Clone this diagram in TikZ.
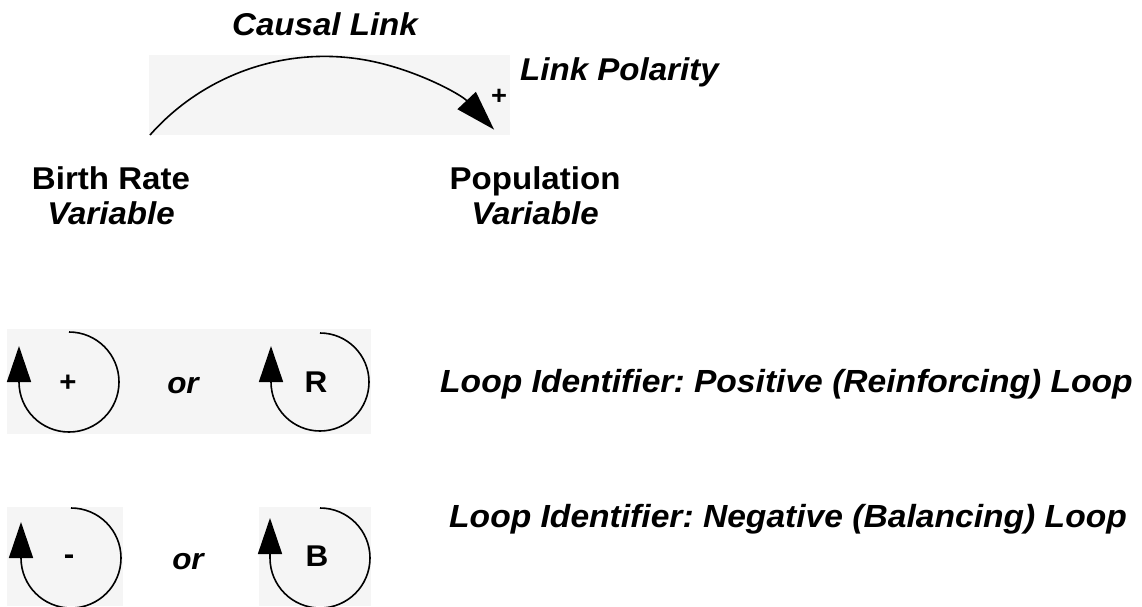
\documentclass[tikz,border=0pt]{standalone}
\usepackage{fontspec}
\setmainfont[FakeStretch=1.05]{Liberation Sans}
\usetikzlibrary{arrows.meta}
\definecolor{panel}{HTML}{F5F5F5}
\frenchspacing
\begin{document}
\begin{tikzpicture}[x=1pt,y=-1pt,
  lbl/.style={inner sep=0pt,font=\fontsize{31.5}{35}\selectfont\bfseries\itshape},
  looplbl/.style={inner sep=0pt,font=\fontsize{32}{35}\selectfont\bfseries\itshape},
  varname/.style={inner sep=0pt,align=center,font=\fontsize{31.5}{35}\selectfont\bfseries},
  loopmark/.style={inner sep=0pt,font=\fontsize{30}{30}\selectfont\bfseries},
  orword/.style={inner sep=0pt,font=\fontsize{30}{30}\selectfont\bfseries\itshape},
  causal/.style={line width=1.6pt,-{Triangle[length=40pt,width=25pt]}},
  loopline/.style={line width=1.6pt,-{Triangle[length=36pt,width=24pt]}}]
\useasboundingbox (0,0) rectangle (1142,606);

% grey panels behind the drawings
\fill[panel] (149,55) rectangle (510,135);
\fill[panel] (7,329) rectangle (371,434);
\fill[panel] (7,507) rectangle (123,606);
\fill[panel] (259,507) rectangle (371,606);

% causal link between two variables
\node[lbl,anchor=base] (causal) at (325,35) {Causal Link};
\node[lbl,anchor=base west] (polarity) at (520,80) {Link Polarity};
\node[varname,anchor=base] (birth) at (111,224) {Birth Rate\\\itshape Variable};
\node[varname,anchor=base] (pop) at (535,224) {Population\\\itshape Variable};
\coordinate (linkstart) at (150,135);
\draw[causal] (linkstart) arc[start angle=-138.5,end angle=-43.3,radius=233];
\node[loopmark,font=\fontsize{26}{26}\selectfont\bfseries] (plus) at (499,97) {+};

% reinforcing loop identifiers
\node[loopmark,font=\fontsize{28}{28}\selectfont\bfseries] (lpos) at (68,383) {+};
\draw[loopline] (lpos.center) ++(1,-51) arc[start angle=-90,end angle=180,radius=50] -- ++(0,-36);
\node[orword] (or1) at (183,386) {or};
\node[loopmark] (lr) at (316,382) {R};
\draw[loopline] (320,333) arc[start angle=-90,end angle=180,radius=49] -- ++(0,-36);
\node[looplbl,anchor=base west] (reinf) at (440,392) {Loop Identifier: Positive (Reinforcing) Loop};

% balancing loop identifiers
\node[loopmark] (lneg) at (69,560) {-};
\draw[loopline] (71,508) arc[start angle=-90,end angle=180,radius=50] -- ++(0,-36);
\node[orword] (or2) at (188,562) {or};
\node[loopmark] (lb) at (317,556) {B};
\draw[loopline] (320,508) arc[start angle=-90,end angle=180,radius=50] -- ++(0,-40);
\node[looplbl,anchor=base west] (bal) at (449,527) {Loop Identifier: Negative (Balancing) Loop};
\end{tikzpicture}
\end{document}
